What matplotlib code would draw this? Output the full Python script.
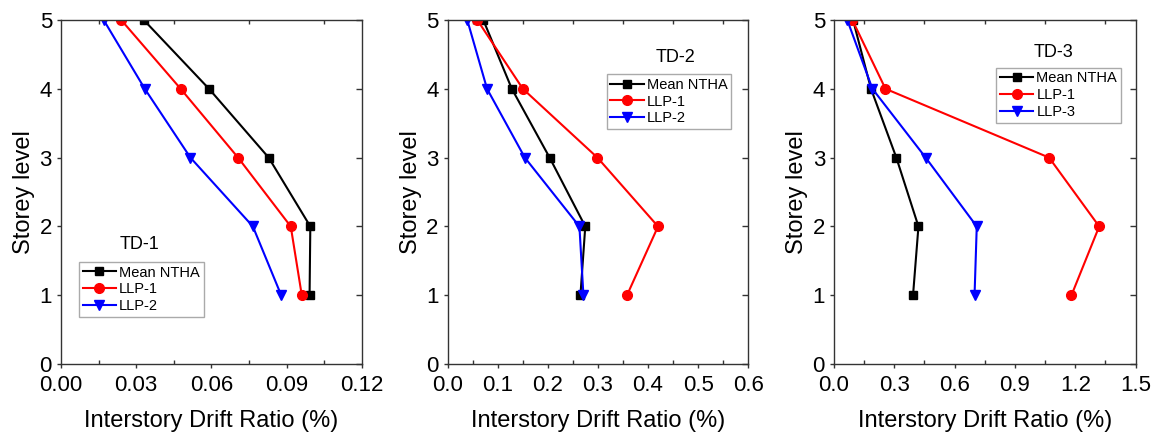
import matplotlib as mpl
mpl.use('Agg')
import matplotlib.pyplot as plt
from matplotlib.ticker import MultipleLocator, FormatStrFormatter

plt.rcParams['font.family'] = ['Liberation Sans', 'DejaVu Sans']

storey = [5, 4, 3, 2, 1]

# TD-1
td1_mean = [0.033, 0.059, 0.0828, 0.0994, 0.0991]
td1_llp1 = [0.024, 0.0477, 0.0706, 0.0916, 0.096]
td1_llp2 = [0.017, 0.0334, 0.0516, 0.0765, 0.0878]

# TD-2
td2_mean = [0.071, 0.128, 0.2035, 0.2747, 0.265]
td2_llp1 = [0.059, 0.150, 0.299, 0.420, 0.358]
td2_llp2 = [0.039, 0.0785, 0.154, 0.263, 0.271]

# TD-3
td3_mean = [0.0946, 0.184, 0.310, 0.420, 0.393]
td3_llp1 = [0.091, 0.256, 1.070, 1.319, 1.181]
td3_llp3 = [0.066, 0.191, 0.456, 0.710, 0.699]

panels = [
    ('TD-1', [td1_mean, td1_llp1, td1_llp2], ['Mean NTHA', 'LLP-1', 'LLP-2'],
     0.12, 0.03, '%.2f', [0.053, 0.161, 0.2615, 0.793], (0.262, 0.349), (0.06, 0.297)),
    ('TD-2', [td2_mean, td2_llp1, td2_llp2], ['Mean NTHA', 'LLP-1', 'LLP-2'],
     0.6, 0.1, '%.1f', [0.389, 0.161, 0.261, 0.793], (0.757, 0.89), (0.529, 0.843)),
    ('TD-3', [td3_mean, td3_llp1, td3_llp3], ['Mean NTHA', 'LLP-1', 'LLP-3'],
     1.5, 0.3, '%.1f', [0.7246, 0.161, 0.262, 0.793], (0.729, 0.905), (0.538, 0.861)),
]

colors = ['black', 'red', 'blue']
markers = ['s', 'o', 'v']
msizes = [6, 7, 7]

fig = plt.figure(figsize=(11.51, 4.34), dpi=100)

for title, series, labels, xmax, step, fmt, rect, tpos, lpos in panels:
    ax = fig.add_axes(rect)
    for vals, lab, c, m, ms in zip(series, labels, colors, markers, msizes):
        ax.plot(vals, storey, color=c, marker=m, markersize=ms, linewidth=1.5, label=lab)
    ax.set_xlim(0, xmax)
    ax.set_ylim(0, 5)
    ax.xaxis.set_major_locator(MultipleLocator(step))
    ax.xaxis.set_minor_locator(MultipleLocator(step / 2))
    ax.yaxis.set_major_locator(MultipleLocator(1))
    ax.xaxis.set_major_formatter(FormatStrFormatter(fmt))
    ax.tick_params(axis='both', which='major', labelsize=16, direction='out', length=3, width=1,
                   color='#333333')
    ax.tick_params(axis='x', which='major', pad=5)
    ax.tick_params(axis='x', which='minor', direction='in', length=3, width=1, top=True,
                   color='#333333')
    for sp in ax.spines.values():
        sp.set_linewidth(1)
        sp.set_color('#333333')
    # right side ticks point inward
    sec = ax.secondary_yaxis('right')
    sec.yaxis.set_major_locator(MultipleLocator(1))
    sec.tick_params(direction='in', length=4, width=1, labelright=False, color='#333333')
    sec.spines['right'].set_visible(False)
    ax.set_xlabel('Interstory Drift Ratio (%)', fontsize=17, labelpad=10)
    ax.set_ylabel('Storey level', fontsize=17, labelpad=3)
    ax.text(tpos[0], tpos[1], title, transform=ax.transAxes, ha='center', va='center', fontsize=13)
    leg = ax.legend(loc='upper left', bbox_to_anchor=lpos, borderaxespad=0, fontsize=10.5,
                    handlelength=2.3, handletextpad=0.2, labelspacing=0.2, borderpad=0.25,
                    fancybox=False, framealpha=1)
    leg.get_frame().set_edgecolor('#aaaaaa')
    leg.get_frame().set_linewidth(1)

fig.savefig('out.png', dpi=100)
